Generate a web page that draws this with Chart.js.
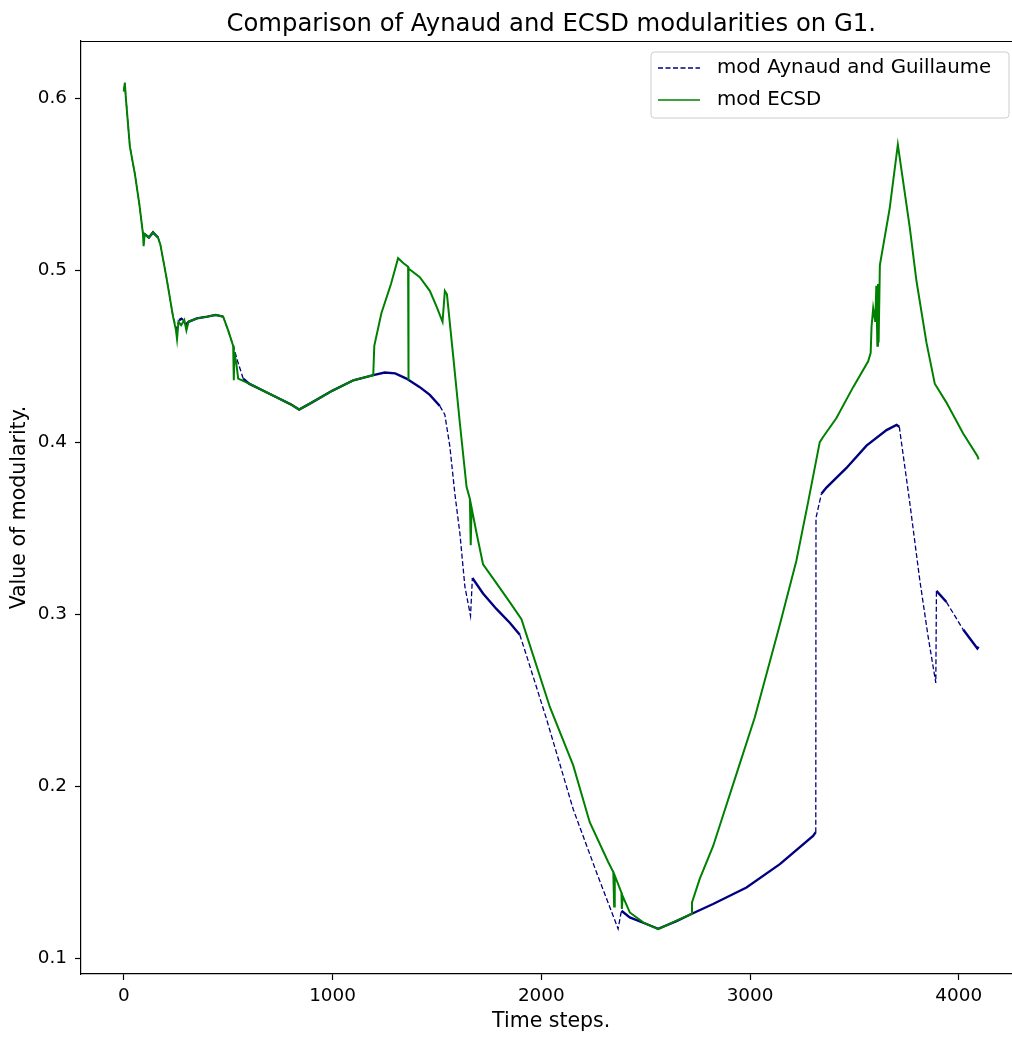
<!DOCTYPE html>
<html>
<head>
<meta charset="utf-8">
<title>Aynaud vs ECSD modularity</title>
<script src="https://cdn.jsdelivr.net/npm/chart.js@4.4.1/dist/chart.umd.min.js"></script>
<style>
    html, body { margin: 0; padding: 0; background: #fff; overflow: hidden; }
    #grafico { display: block; }
</style>
</head>
<body>
<canvas id="grafico" width="1040" height="1039"></canvas>
<script>
// modularity of G1 over the time steps
var aynaudSteps = [0, 5, 10, 29, 53, 75, 92, 100, 120, 140, 164, 175, 204, 236, 252, 265, 280, 295, 310, 350,
    400, 440, 476, 500, 524, 548, 572, 600, 700, 800, 840, 900, 1000, 1100, 1195, 1250, 1300, 1354, 1418, 1466,
    1514, 1538, 1562, 1586, 1610, 1634, 1661, 1670, 1721, 1785, 1849, 1897, 1929, 2025, 2153, 2264, 2368, 2384,
    2424, 2488, 2560, 2648, 2719, 2823, 2983, 3143, 3302, 3315, 3316, 3342, 3366, 3462, 3558, 3654, 3702, 3715,
    3765, 3813, 3853, 3890, 3893, 3941, 4021, 4089, 4095];
var aynaudValues = [0.604, 0.609, 0.600, 0.572, 0.556, 0.538, 0.521, 0.521, 0.519, 0.522, 0.519, 0.515, 0.496, 0.473, 0.466, 0.471, 0.472, 0.468, 0.470, 0.472,
    0.473, 0.474, 0.473, 0.465, 0.456, 0.446, 0.437, 0.434, 0.428, 0.422, 0.419, 0.423, 0.430, 0.436, 0.439, 0.4405, 0.440, 0.437, 0.432, 0.4275,
    0.421, 0.416, 0.3975, 0.370, 0.347, 0.316, 0.299, 0.321, 0.312, 0.303, 0.295, 0.288, 0.276, 0.239, 0.1865, 0.150, 0.117, 0.1275,
    0.1236, 0.1205, 0.117, 0.1215, 0.1256, 0.1314, 0.141, 0.1546, 0.171, 0.1732, 0.356, 0.370, 0.3736, 0.385, 0.398, 0.407, 0.410, 0.409,
    0.365, 0.320, 0.287, 0.260, 0.3135, 0.307, 0.291, 0.280, 0.281];

var ecsdSteps = [0, 5, 10, 29, 53, 75, 92, 95, 100, 120, 140, 164, 175, 204, 236, 250, 255, 262, 275, 290, 300, 310, 350,
    400, 440, 476, 500, 524, 527, 530, 540, 548, 600, 700, 800, 840, 900, 1000, 1100, 1195, 1200, 1234, 1280, 1314, 1340,
    1362, 1363, 1365, 1418, 1466, 1498, 1527, 1538, 1548, 1578, 1610, 1642, 1658, 1662, 1666, 1690, 1721, 1785, 1849, 1905,
    1937, 2041, 2153, 2232, 2320, 2345, 2349, 2352, 2384, 2386, 2390, 2424, 2488, 2560, 2648, 2719, 2722, 2759, 2823, 2871,
    2927, 3023, 3143, 3222, 3278, 3334, 3350, 3414, 3494, 3566, 3578, 3582, 3590, 3600, 3605, 3610, 3613, 3616, 3622, 3669,
    3708, 3765, 3797, 3845, 3885, 3941, 4021, 4089, 4095];
var ecsdValues = [0.604, 0.609, 0.600, 0.572, 0.556, 0.538, 0.521, 0.514, 0.521, 0.519, 0.522, 0.519, 0.515, 0.496, 0.473, 0.465, 0.460, 0.470, 0.468, 0.471, 0.465, 0.470, 0.472,
    0.473, 0.474, 0.473, 0.465, 0.456, 0.436, 0.452, 0.445, 0.437, 0.434, 0.428, 0.422, 0.419, 0.423, 0.430, 0.436, 0.439, 0.456, 0.475, 0.492, 0.507, 0.504,
    0.502, 0.436, 0.501, 0.496, 0.488, 0.479, 0.470, 0.488, 0.486, 0.450, 0.411, 0.374, 0.367, 0.340, 0.362, 0.347, 0.329, 0.318, 0.307, 0.297,
    0.285, 0.246, 0.212, 0.179, 0.156, 0.150, 0.130, 0.148, 0.138, 0.1285, 0.136, 0.1265, 0.1207, 0.1168, 0.1217, 0.1256, 0.1323, 0.146, 0.165, 0.183,
    0.204, 0.240, 0.294, 0.331, 0.365, 0.400, 0.403, 0.414, 0.432, 0.447, 0.452, 0.467, 0.478, 0.470, 0.491, 0.456, 0.492, 0.458, 0.503, 0.536,
    0.573, 0.525, 0.494, 0.458, 0.434, 0.423, 0.405, 0.392, 0.390];

var xTicks = [0, 1000, 2000, 3000, 4000];
var yTicks = [0.1, 0.2, 0.3, 0.4, 0.5, 0.6];

var titolo = 'Comparison of Aynaud and ECSD modularities on G1.';
var nomeAynaud = 'mod Aynaud and Guillaume';
var nomeEcsd = 'mod ECSD';

var FONT = 'DejaVu Sans';
var blu = '#000080';
var verde = '#008000';
var trattino = [5, 2.5];

function costruisciPunti(steps, values) {
    var punti = [];
    for (var i = 0; i < steps.length; i++) {
        punti.push({ x: steps[i], y: values[i] });
    }
    return punti;
}

// the noisy, slow stretches read as a thick solid band, the fast ones as plain dashes
function ripido(c) {
    var dx = Math.abs(c.p1.x - c.p0.x);
    var dy = Math.abs(c.p1.y - c.p0.y);
    return dy > 1.6 * dx;
}

// title, legend box and the two spines chart.js does not draw
var cornice = {
    id: 'cornice',
    afterDraw: function (chart) {
        var ctx = chart.ctx;
        var area = chart.chartArea;
        ctx.save();

        ctx.strokeStyle = '#000';
        ctx.lineWidth = 1.2;
        ctx.beginPath();
        ctx.moveTo(area.left, area.top + 0.5);
        ctx.lineTo(area.right, area.top + 0.5);
        ctx.lineTo(area.right, area.bottom);
        ctx.stroke();

        ctx.fillStyle = '#000';
        ctx.font = '24.3px "' + FONT + '"';
        ctx.textAlign = 'center';
        ctx.textBaseline = 'alphabetic';
        ctx.fillText(titolo, (area.left + area.right) / 2, 31);

        // legend
        var lx = 651, ly = 52, lw = 358, lh = 66, r = 3.5;
        ctx.beginPath();
        ctx.moveTo(lx + r, ly);
        ctx.arcTo(lx + lw, ly, lx + lw, ly + lh, r);
        ctx.arcTo(lx + lw, ly + lh, lx, ly + lh, r);
        ctx.arcTo(lx, ly + lh, lx, ly, r);
        ctx.arcTo(lx, ly, lx + lw, ly, r);
        ctx.closePath();
        ctx.fillStyle = 'rgba(255,255,255,0.8)';
        ctx.fill();
        ctx.strokeStyle = '#cccccc';
        ctx.lineWidth = 1;
        ctx.stroke();

        ctx.lineWidth = 1.3;
        ctx.strokeStyle = blu;
        ctx.setLineDash(trattino);
        ctx.beginPath();
        ctx.moveTo(658, 68);
        ctx.lineTo(700, 68);
        ctx.stroke();

        ctx.setLineDash([]);
        ctx.strokeStyle = verde;
        ctx.beginPath();
        ctx.moveTo(658, 100);
        ctx.lineTo(700, 100);
        ctx.stroke();

        ctx.fillStyle = '#000';
        ctx.font = '19.8px "' + FONT + '"';
        ctx.textAlign = 'left';
        ctx.textBaseline = 'middle';
        ctx.fillText(nomeAynaud, 717, 68);
        ctx.fillText(nomeEcsd, 717, 100);

        ctx.restore();
    }
};

Chart.defaults.font.family = FONT;
Chart.defaults.font.size = 18.4;
Chart.defaults.color = '#000';

var ctx = document.getElementById('grafico');
var chart = new Chart(ctx, {
    type: 'line',
    data: {
        datasets: [{
            label: nomeAynaud,
            data: costruisciPunti(aynaudSteps, aynaudValues),
            borderColor: blu,
            borderWidth: 1.3,
            borderDash: trattino,
            segment: {
                borderDash: function (c) { return ripido(c) ? trattino : []; },
                borderWidth: function (c) { return ripido(c) ? 1.3 : 2.4; }
            },
            pointRadius: 0,
            tension: 0,
            fill: false,
            order: 1
        }, {
            label: nomeEcsd,
            data: costruisciPunti(ecsdSteps, ecsdValues),
            borderColor: verde,
            borderWidth: 2,
            pointRadius: 0,
            tension: 0,
            fill: false,
            order: 0
        }]
    },
    options: {
        responsive: false,
        animation: false,
        devicePixelRatio: 1,
        layout: { padding: { top: 41, right: 18.6, left: 0, bottom: 0 } },
        plugins: {
            legend: { display: false },
            title: { display: false },
            tooltip: { enabled: false }
        },
        scales: {
            x: {
                type: 'linear',
                min: -205,
                max: 4300,
                afterBuildTicks: function (scale) {
                    scale.ticks = xTicks.map(function (v) { return { value: v }; });
                },
                afterFit: function (scale) { scale.height = 65; },
                ticks: {
                    padding: 5.3,
                    maxRotation: 0,
                    callback: function (v) { return String(v); }
                },
                grid: { drawOnChartArea: false, drawTicks: true, tickLength: 6, tickColor: '#000', tickWidth: 1.2 },
                border: { display: true, color: '#000', width: 1.2 },
                title: { display: true, text: 'Time steps.', font: { size: 20.5 }, padding: { top: 0, bottom: 5.2 } }
            },
            y: {
                type: 'linear',
                min: 0.0907,
                max: 0.6333,
                afterBuildTicks: function (scale) {
                    scale.ticks = yTicks.map(function (v) { return { value: v }; });
                },
                afterFit: function (scale) { scale.width = 81; },
                ticks: {
                    padding: 8,
                    callback: function (v) { return v.toFixed(1); }
                },
                grid: { drawOnChartArea: false, drawTicks: true, tickLength: 6, tickColor: '#000', tickWidth: 1.2 },
                border: { display: true, color: '#000', width: 1.2 },
                title: { display: true, text: 'Value of modularity.', font: { size: 20.5 }, padding: { top: 7.7, bottom: 0 } }
            }
        }
    },
    plugins: [cornice]
});
</script>
</body>
</html>
